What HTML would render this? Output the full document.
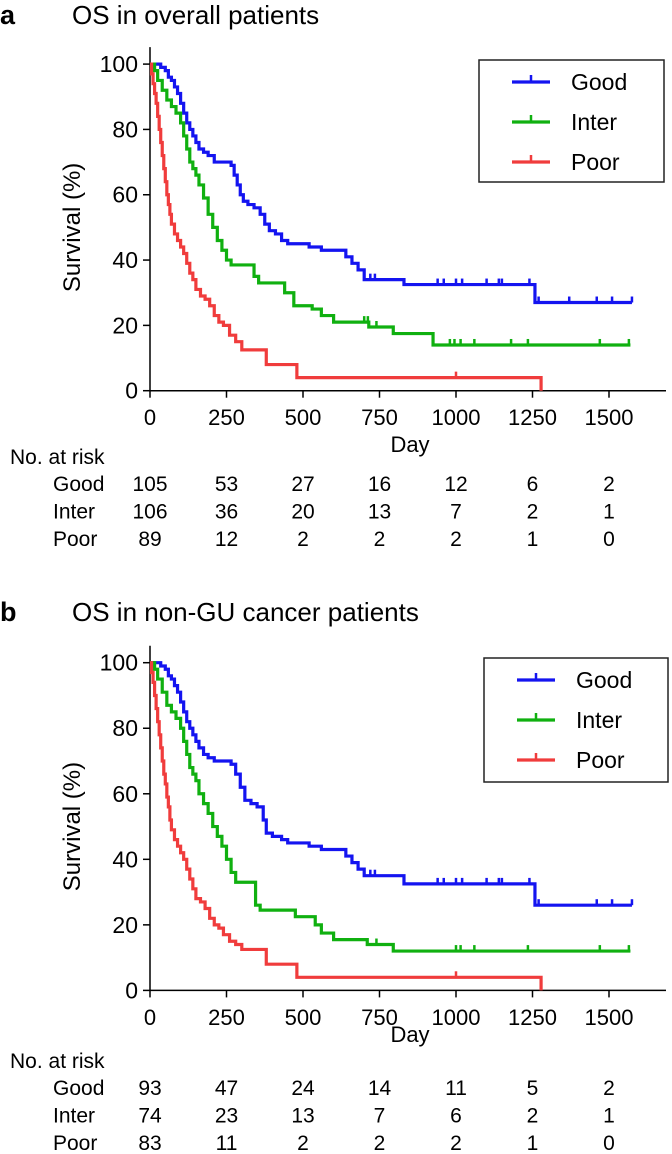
<!DOCTYPE html>
<html><head><meta charset="utf-8">
<style>
html,body{margin:0;padding:0;background:#fff;}
svg{display:block;font-family:"Liberation Sans",Arial,sans-serif;}
</style></head>
<body>
<svg id="fig" width="672" height="1154" viewBox="0 0 672 1154" xmlns="http://www.w3.org/2000/svg"></svg>
<script>
// ---------- Panel a data ----------
const aGoodT=[0,35,50,60,70,80,90,100,110,120,130,140,150,160,175,190,210,265,275,285,295,305,320,340,360,375,390,410,430,450,520,560,640,660,680,700,830,1258];
const aGoodS=[100,99,98,96,95,93,91,88,85,82,80,78,76,74,73,72,70,69,66,63,60,58,57,56,54,51,49,48,46,45,44,43,41,39,37,34,32.5,27];
const aInterT=[0,15,25,40,55,70,85,100,110,120,130,140,150,160,175,190,205,220,235,250,265,340,355,440,470,530,560,600,715,795,925];
const aInterS=[100,98,95,92,89,87,85,82,78,74,70,68,66,63,59,54,50,46,43,40,38.5,35,33,30,26,25,23,21,19.5,17.5,14];
const aPoorT=[0,5,10,15,20,25,30,35,40,45,50,55,60,65,70,80,90,100,110,120,130,140,150,165,180,195,210,225,240,260,280,300,380,480,1278];
const aPoorS=[100,97,94,91,88,84,80,76,72,68,64,60,57,54,51,48,46,44,42,39,36,34,31,29,28,26,23,21,20,17,15,12.5,8,4,0];
const aEnd=[1575,1570,1278];
const aGoodC=[720,735,940,960,1000,1020,1100,1140,1150,1240,1270,1370,1460,1510,1575];
const aInterC=[700,712,740,980,995,1015,1060,1180,1235,1470,1565];
const aPoorC=[1000];
const aRiskGood=[105,53,27,16,12,6,2];
const aRiskInter=[106,36,20,13,7,2,1];
const aRiskPoor=[89,12,2,2,2,1,0];
// ---------- Panel b data ----------
const bGoodT=[0,35,50,60,70,80,90,100,110,120,130,140,150,160,175,190,210,265,280,295,310,330,350,370,380,400,430,450,520,560,640,660,680,700,830,1258];
const bGoodS=[100,99,98,96,95,93,91,88,85,82,80,78,76,74,72,71,70,69,66,62,58,57,56,52,48,47,46,45,44,43,41,39,37,35,32.5,26];
const bInterT=[0,15,25,40,55,70,85,100,110,120,130,140,150,160,175,190,205,220,235,250,265,280,345,360,475,540,560,600,710,795];
const bInterS=[100,98,95,91,87,85,83,80,76,72,68,66,64,60,57,54,50,47,44,40,36,33,26,24.5,22.5,20,17.5,15.5,14,12];
const bPoorT=[0,5,10,15,20,25,30,35,40,45,50,55,60,65,70,80,90,100,110,120,130,140,150,165,180,195,210,225,240,260,280,300,380,480,1278];
const bPoorS=[100,97,94,90,86,82,78,74,70,66,63,59,56,52,49,46,44,42,40,37,34,31,28,27,25,22,20,19,17,15,14,12.5,8,4,0];
const bEnd=[1575,1570,1278];
const bGoodC=[720,735,940,960,1000,1020,1100,1140,1150,1240,1270,1460,1510,1575];
const bInterC=[740,1000,1015,1060,1235,1470,1565];
const bPoorC=[1000];
const bRiskGood=[93,47,24,14,11,5,2];
const bRiskInter=[74,23,13,7,6,2,1];
const bRiskPoor=[83,11,2,2,2,1,0];
// ---------- Axis ticks ----------
const xTicks=[0,250,500,750,1000,1250,1500];
const yTicks=[0,20,40,60,80,100];
const groups=["Good","Inter","Poor"];

const NS="http://www.w3.org/2000/svg";
const svg=document.getElementById('fig');
const COLORS=["#1414f0","#10b010","#f03c3c"];
function mk(tag,attrs,parent,text){const e=document.createElementNS(NS,tag);for(const k in attrs)e.setAttribute(k,attrs[k]);if(text!==undefined)e.textContent=text;(parent||svg).appendChild(e);return e;}

function panel(p){
  const X0=150, XS=0.306;
  const xs=d=>X0+d*XS;
  const ys=v=>p.y0-v*p.ysc;
  const g=mk('g',{});
  
  
  let t=mk('text',{x:0,y:p.titleY,'font-size':27,'font-weight':'bold'},g,p.id);
  
  
  t=mk('text',{x:72,y:p.titleY,'font-size':26},g,p.title);
  
  
  // axes
  let ax=mk('line',{x1:X0,y1:ys(0),x2:X0,y2:ys(100)-17,stroke:'#000','stroke-width':1.5},g);
  
  
  ax=mk('line',{x1:X0,y1:ys(0),x2:666,y2:ys(0),stroke:'#000','stroke-width':1.5},g);
  
  
  yTicks.forEach(v=>{
    mk('line',{x1:X0-7,y1:ys(v),x2:X0,y2:ys(v),stroke:'#000','stroke-width':1.5},g);
    const l=mk('text',{x:138,y:ys(v)+8,'font-size':23,'text-anchor':'end'},g,String(v));
    
    
  });
  xTicks.forEach(v=>{
    mk('line',{x1:xs(v),y1:ys(0),x2:xs(v),y2:ys(0)+7,stroke:'#000','stroke-width':1.5},g);
    const l=mk('text',{x:xs(v),y:p.tickY,'font-size':22,'text-anchor':'middle'},g,String(v));
    
    
  });
  const yl=mk('text',{x:0,y:0,'font-size':24,'text-anchor':'middle',transform:`translate(80,${(ys(0)+ys(100))/2}) rotate(-90)`},g,'Survival (%)');
  
  
  const xl=mk('text',{x:410,y:p.dayY,'font-size':22,'text-anchor':'middle'},g,'Day');
  
  
  // curves
  [[p.T[0],p.S[0],p.C[0]],[p.T[1],p.S[1],p.C[1]],[p.T[2],p.S[2],p.C[2]]].forEach((c,i)=>{
    const [T,S,C]=c;
    let d=`M${xs(T[0])},${ys(S[0])}`;
    for(let k=1;k<T.length;k++){d+=` H${xs(T[k])} V${ys(S[k])}`;}
    d+=` H${xs(p.end[i])}`;
    const path=mk('path',{d:d,fill:'none',stroke:COLORS[i],'stroke-width':3.2},g);
    
    
    C.forEach(cd=>{
      let sv=S[0];for(let k=0;k<T.length;k++){if(T[k]<=cd)sv=S[k];}
      const m=mk('line',{x1:xs(cd),y1:ys(sv),x2:xs(cd),y2:ys(sv)-6,stroke:COLORS[i],'stroke-width':2.5},g);
      
      
    });
  });
  // legend
  const L=p.legend;
  const lg=mk('g',{},g);
  
  
  mk('rect',{x:L.x,y:L.y,width:L.w,height:L.h,fill:'#fff',stroke:'#222','stroke-width':1.5},lg);
  groups.forEach((nm,i)=>{
    const yy=L.y+22+i*40;
    const e=mk('g',{},lg);
    
    
    mk('line',{x1:L.x+33,y1:yy,x2:L.x+71,y2:yy,stroke:COLORS[i],'stroke-width':3.2},e);
    mk('line',{x1:L.x+52,y1:yy,x2:L.x+52,y2:yy-7,stroke:COLORS[i],'stroke-width':2.5},e);
    mk('text',{x:L.x+92,y:yy+8,'font-size':23},e,nm);
  });
  // risk table
  const rt=mk('text',{x:10,y:p.riskY,'font-size':21},g,'No. at risk');
  
  
  [p.R[0],p.R[1],p.R[2]].forEach((row,i)=>{
    const yy=p.riskY+27+i*27.5;
    const lab=mk('text',{x:53,y:yy,'font-size':21},g,groups[i]);
    
    
    row.forEach((v,j)=>{
      const c=mk('text',{x:xs(xTicks[j]),y:yy,'font-size':21,'text-anchor':'middle'},g,String(v));
      
      
    });
  });
}
panel({id:'a',title:'OS in overall patients',titleY:24,y0:390.7,ysc:3.266,tickY:425,dayY:452,riskY:464,
  T:[aGoodT,aInterT,aPoorT],S:[aGoodS,aInterS,aPoorS],C:[aGoodC,aInterC,aPoorC],end:aEnd,
  R:[aRiskGood,aRiskInter,aRiskPoor],legend:{x:479,y:60,w:185,h:122}});
panel({id:'b',title:'OS in non-GU cancer patients',titleY:621,y0:990.4,ysc:3.277,tickY:1025,dayY:1042,riskY:1068,
  T:[bGoodT,bInterT,bPoorT],S:[bGoodS,bInterS,bPoorS],C:[bGoodC,bInterC,bPoorC],end:bEnd,
  R:[bRiskGood,bRiskInter,bRiskPoor],legend:{x:484,y:658,w:184,h:124}});
</script>
</body></html>
